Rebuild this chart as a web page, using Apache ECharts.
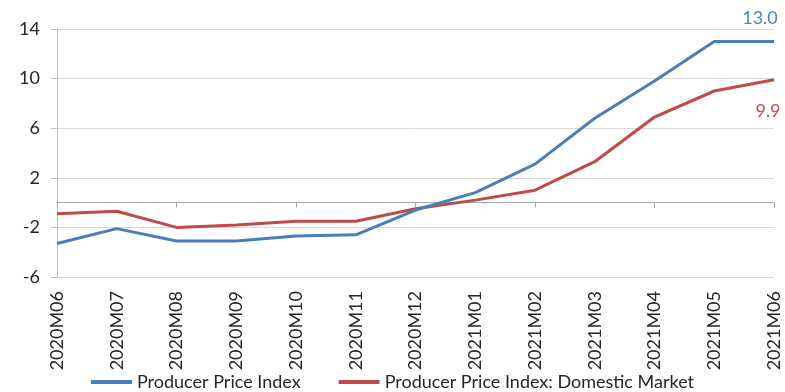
<!DOCTYPE html>
<html>
<head>
<meta charset="utf-8">
<script src="https://cdn.jsdelivr.net/npm/echarts@6/dist/echarts.min.js"></script>
<style>
html,body{margin:0;padding:0;background:#fff;}
#chart{width:785px;height:392px;}
</style>
</head>
<body>
<div id="chart"></div>
<script>
// Monthly producer price change, %
const months = ['2020M06','2020M07','2020M08','2020M09','2020M10','2020M11','2020M12',
                '2021M01','2021M02','2021M03','2021M04','2021M05','2021M06'];
const ppi = [-3.3, -2.1, -3.1, -3.1, -2.7, -2.6, -0.6, 0.8, 3.1, 6.8, 9.8, 13.0, 13.0];
const ppiDomestic = [-0.9, -0.7, -2.0, -1.8, -1.5, -1.5, -0.5, 0.2, 1.0, 3.3, 6.9, 9.0, 9.9];
const yTicks = {min: -6, max: 14, step: 4};

const FONT = 'Lato, "Open Sans", sans-serif';
const BLUE = '#4A7EBB';
const RED = '#BE4B48';

// Show the value only at the last point of a series
function withEndLabel(values, labelCfg) {
  return values.map((v, i) => i === values.length - 1 ? {value: v, label: labelCfg} : v);
}

const chart = echarts.init(document.getElementById('chart'));
chart.setOption({
  animation: false,
  textStyle: {fontFamily: FONT},
  grid: {left: 57, right: 11, top: 29, bottom: 115},
  legend: {
    bottom: -4,
    left: 'center',
    itemWidth: 41,
    itemHeight: 4,
    itemGap: 38,
    icon: 'rect',
    textStyle: {fontFamily: FONT, fontSize: 18, color: '#262626'},
    data: ['Producer Price Index', 'Producer Price Index: Domestic Market']
  },
  xAxis: [
    {
      // axis line crossing at zero, with ticks
      type: 'category',
      data: months,
      boundaryGap: false,
      axisLine: {onZero: true, lineStyle: {color: '#a6a6a6', width: 1}},
      axisTick: {show: true, length: 5, lineStyle: {color: '#a6a6a6'}},
      axisLabel: {show: false},
      splitLine: {show: false}
    },
    {
      // month labels along the bottom edge
      type: 'category',
      data: months,
      boundaryGap: false,
      position: 'bottom',
      axisLine: {show: false, onZero: false},
      axisTick: {show: false},
      axisLabel: {rotate: 90, margin: 14, fontSize: 18, color: '#262626', fontFamily: FONT, interval: 0},
      splitLine: {show: false}
    }
  ],
  yAxis: {
    type: 'value',
    min: yTicks.min,
    max: yTicks.max,
    interval: yTicks.step,
    axisLine: {show: true, lineStyle: {color: '#bfbfbf'}},
    axisTick: {show: true, length: 6, lineStyle: {color: '#bfbfbf'}},
    axisLabel: {fontSize: 18, color: '#262626', margin: 17, fontFamily: FONT},
    splitLine: {lineStyle: {color: '#d9d9d9', width: 1}}
  },
  series: [
    {
      name: 'Producer Price Index',
      type: 'line',
      data: withEndLabel(ppi, {
        show: true, position: 'top', distance: 14, offset: [-14, 0],
        color: '#4F81BD', fontSize: 18, fontFamily: FONT,
        formatter: p => p.value.toFixed(1)
      }),
      symbol: 'circle',
      symbolSize: 0.1,
      showSymbol: true,
      lineStyle: {color: BLUE, width: 3},
      itemStyle: {color: BLUE},
      z: 3
    },
    {
      name: 'Producer Price Index: Domestic Market',
      type: 'line',
      data: withEndLabel(ppiDomestic, {
        show: true, position: 'bottom', distance: 22, offset: [-6, 0],
        color: '#C0504D', fontSize: 18, fontFamily: FONT,
        formatter: p => p.value.toFixed(1)
      }),
      symbol: 'circle',
      symbolSize: 0.1,
      showSymbol: true,
      lineStyle: {color: RED, width: 3},
      itemStyle: {color: RED},
      z: 2
    }
  ]
});
</script>
</body>
</html>
